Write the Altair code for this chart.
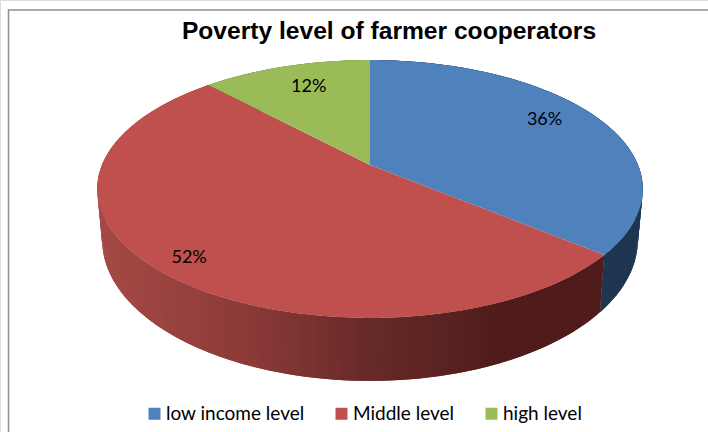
import math

import altair as alt
import pandas as pd

# Survey shares, in drawing order clockwise from twelve o'clock
levels = ["low income level", "Middle level", "high level"]
shares = [36, 52, 12]
labels = ["36%", "52%", "12%"]
colors = ["#4F81BD", "#C0504D", "#9BBB59"]

# Where each percentage sits on the disc: fraction of the turn, fraction of the radius
label_turn = [0.169, 0.6167, 0.944]
label_radius = [0.80, 0.885, 0.75]

# Wall shading of the middle segment, by horizontal position around the pie's centre
shade_at = [-273, -120, 0, 130, 235]
shade_colors = ["#A64A46", "#8A3A37", "#662A28", "#4F1C1B", "#4F1C1B"]
wall_flat = {"low income level": "#1F3650", "high level": "#6F8A3C"}

# Tilted-disc projection of the pie, in pixels around the pie's centre
TILT = 0.186
TOP_A, TOP_B = 268.0, 124.5
RIM_SCALE, RIM_B, RIM_DROP = 0.982, 136.0, 48.8


def top_point(turn, r=1.0):
    u = r * math.sin(2 * math.pi * turn)
    v = -r * math.cos(2 * math.pi * turn)
    w = 1 - TILT * v
    return TOP_A * u / w, TOP_B * v / w


def rim_point(turn):
    u = math.sin(2 * math.pi * turn)
    v = -math.cos(2 * math.pi * turn)
    w = 1 - TILT * v
    return RIM_SCALE * TOP_A * u / w, RIM_DROP + RIM_B * v / w


def arc_turns(start, end):
    n = max(2, int((end - start) * 360))
    return [start + (end - start) * i / n for i in range(n + 1)]


top_rows, wall_rows, label_rows = [], [], []
start = 0.0
quad = 0
for level, share, label, lt, lr in zip(levels, shares, labels, label_turn, label_radius):
    end = start + share / 100
    turns = arc_turns(start, end)
    outline = [(0.0, 0.0)] + [top_point(t) for t in turns]
    for i, (x, y) in enumerate(outline):
        top_rows.append({"level": level, "x": x, "y": y, "i": i})
    # The wall is a run of narrow quads, each overlapping the next one
    for a, b in zip(turns[:-1], turns[min(2, len(turns) - 1):] + [turns[-1]]):
        corners = [top_point(a), top_point(b), rim_point(b), rim_point(a)]
        mid = sum(c[0] for c in corners) / 4
        for i, (x, y) in enumerate(corners):
            wall_rows.append(
                {"level": level, "x": x, "y": y, "i": i, "quad": quad, "mid": mid}
            )
        quad += 1
    lx, ly = top_point(lt, lr)
    label_rows.append({"x": lx, "y": ly, "text": label})
    start = end

top_df = pd.DataFrame(top_rows)
wall_df = pd.DataFrame(wall_rows)
label_df = pd.DataFrame(label_rows)
frame_df = pd.DataFrame([{"x": -361.5, "x2": 400, "y": -155, "y2": 320}])

x_scale = alt.Scale(domain=[-370, 338], nice=False, zero=False)
y_scale = alt.Scale(domain=[-165, 267], reverse=True, nice=False, zero=False)
X = alt.X("x:Q", scale=x_scale, axis=None)
Y = alt.Y("y:Q", scale=y_scale, axis=None)

frame = alt.Chart(frame_df).mark_rect(
    fill="#FFFFFF", stroke="#8E8E8E", strokeWidth=1.5, clip=False
).encode(X, alt.X2("x2:Q"), Y, alt.Y2("y2:Q"))

# Side walls: the middle segment darkens from left to right, the others are flat
wall_blue = alt.Chart(wall_df[wall_df.level == levels[0]]).mark_line(
    fill=wall_flat[levels[0]], strokeWidth=0
).encode(X, Y, order="i:Q", detail="quad:N")
wall_green = alt.Chart(wall_df[wall_df.level == levels[2]]).mark_line(
    fill=wall_flat[levels[2]], strokeWidth=0
).encode(X, Y, order="i:Q", detail="quad:N")
wall_red = alt.Chart(wall_df[wall_df.level == levels[1]]).mark_line(strokeWidth=0).encode(
    X,
    Y,
    order="i:Q",
    detail="quad:N",
    fill=alt.Fill(
        "mid:Q",
        scale=alt.Scale(domain=shade_at, range=shade_colors, clamp=True),
        legend=None,
    ),
)

tops = alt.Chart(top_df).mark_line(strokeWidth=0).encode(
    X,
    Y,
    order="i:Q",
    fill=alt.Fill(
        "level:N",
        scale=alt.Scale(domain=levels, range=colors),
        legend=alt.Legend(
            title=None,
            orient="none",
            legendX=145,
            legendY=404,
            padding=0,
            direction="horizontal",
            columns=3,
            columnPadding=27,
            symbolType="square",
            symbolSize=144,
            symbolStrokeWidth=0,
            labelFont="Lato",
            labelFontSize=19,
            labelColor="#000000",
            labelOffset=2,
        ),
    ),
)

text = alt.Chart(label_df).mark_text(
    font="Lato", fontSize=18, color="#000000"
).encode(X, Y, text="text:N")

chart = (
    alt.layer(frame, wall_blue, wall_green, wall_red, tops, text)
    .resolve_scale(x="shared", y="shared", fill="independent")
    .properties(
        width=708,
        height=432,
        padding=0,
        autosize=alt.AutoSizeParams(type="none"),
        title=alt.TitleParams(
            "Poverty level of farmer cooperators",
            font="Liberation Sans",
            fontSize=24.6,
            fontWeight="bold",
            color="#000000",
            anchor="middle",
            dx=35,
            dy=45,
            offset=0,
        ),
    )
    .configure_view(stroke=None)
    .configure(background="#FFFFFF")
)

chart.save("out.html", embed_options={"renderer": "svg", "actions": False})
